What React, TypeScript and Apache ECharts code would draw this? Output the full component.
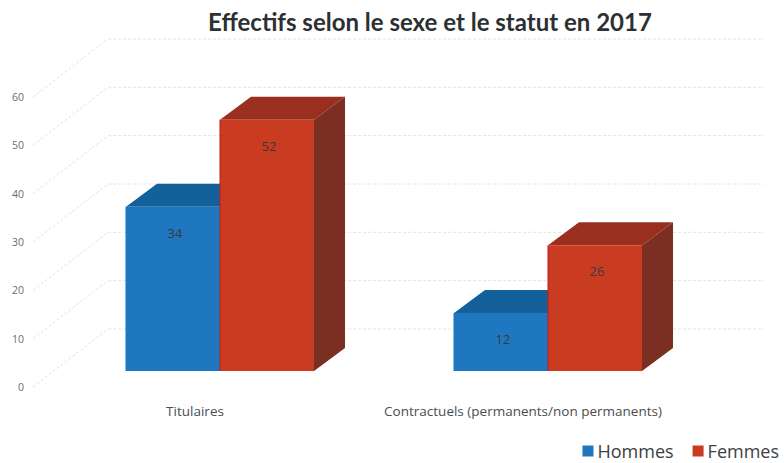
import React, { useEffect, useRef } from "react";
import * as echarts from "echarts";

const titleText = "Effectifs selon le sexe et le statut en 2017";
const categories = ["Titulaires", "Contractuels (permanents/non permanents)"];
const hommes = [34, 12];
const femmes = [52, 26];
const yTicks = [0, 10, 20, 30, 40, 50, 60];

const WALL_DX = 77;
const WALL_DY = 58;
const BAR_W = 94;
const BAR_SHIFT_X = 25;
const BAR_SHIFT_Y = 16;
const TOP_DX = 31;
const TOP_DY = 23;

const wallItem = (params: any, api: any) => {
  const cs = params.coordSys;
  const p = api.coord([0, api.value(1)]);
  const y = p[1];
  const x0 = cs.x;
  const x1 = cs.x + WALL_DX;
  const x2 = cs.x + cs.width + WALL_DX;
  const y1 = y - WALL_DY;
  const style = { stroke: "#e0e2e4", lineWidth: 1, lineDash: [3, 2], fill: "none" };
  return {
    type: "group",
    children: [
      { type: "polyline", shape: { points: [[x0 + 2, y], [x1, y1], [x2, y1]] }, style },
    ],
  };
};

const barItem = (side: -1 | 1, front: string, top: string, right: string, edge: string) => (_p: any, api: any) => {
  const cat = api.value(0);
  const val = api.value(1);
  const a = api.coord([cat, val]);
  const b = api.coord([cat, 0]);
  const cx = a[0] + BAR_SHIFT_X;
  const xl = side < 0 ? cx - BAR_W : cx;
  const xr = xl + BAR_W;
  const yt = a[1] - BAR_SHIFT_Y;
  const yb = b[1] - BAR_SHIFT_Y;
  return {
    type: "group",
    children: [
      {
        type: "polygon",
        shape: { points: [[xr, yt], [xr + TOP_DX, yt - TOP_DY], [xr + TOP_DX, yb - TOP_DY], [xr, yb]] },
        style: { fill: right },
      },
      {
        type: "polygon",
        shape: { points: [[xl, yt], [xl + TOP_DX, yt - TOP_DY], [xr + TOP_DX, yt - TOP_DY], [xr, yt]] },
        style: { fill: top },
      },
      { type: "rect", shape: { x: xl, y: yt, width: BAR_W, height: yb - yt }, style: { fill: front } },
      { type: "line", shape: { x1: xl, y1: yt, x2: xl, y2: yb }, style: { stroke: edge, lineWidth: 1 } },
      {
        type: "text",
        style: {
          x: xl + BAR_W / 2 + 2,
          y: yt + 26,
          text: String(val),
          fill: "#3a3a3a",
          font: "13px 'Open Sans'",
          align: "center",
          verticalAlign: "middle",
        },
      },
    ],
  };
};

export default function App() {
  const ref = useRef<HTMLDivElement>(null);
  useEffect(() => {
    const chart = echarts.init(ref.current!, null, { renderer: "svg" });
    chart.setOption({
      animation: false,
      backgroundColor: "#ffffff",
      title: {
        text: titleText,
        left: 425,
        top: 4,
        textAlign: "center",
        textStyle: { fontFamily: "Lato", fontWeight: 700, fontSize: 24, color: "#2c3033" },
      },
      legend: {
        right: 0,
        top: 437,
        icon: "rect",
        itemWidth: 11,
        itemHeight: 11,
        itemGap: 19,
        data: ["Hommes", "Femmes"],
        textStyle: { fontFamily: "Open Sans", fontSize: 18, color: "#3c4044", padding: [0, 0, 0, -1] },
      },
      grid: { left: 31, right: 97, top: 97, bottom: 76, containLabel: false },
      xAxis: {
        type: "category",
        data: categories,
        axisLine: { show: false },
        axisTick: { show: false },
        axisLabel: { margin: 17, fontFamily: "Open Sans", fontSize: 13.5, color: "#4a4d50", interval: 0 },
      },
      yAxis: {
        type: "value",
        min: 0,
        max: 60,
        interval: 10,
        splitLine: { show: false },
        axisLine: { show: false },
        axisTick: { show: false },
        axisLabel: { margin: 7, fontFamily: "Open Sans", fontSize: 10.5, color: "#6a6d70" },
      },
      series: [
        {
          type: "custom",
          name: "wall",
          silent: true,
          renderItem: wallItem,
          data: yTicks.map((t) => [0, t]),
        },
        {
          type: "custom",
          name: "Hommes",
          renderItem: barItem(-1, "#1f77bf", "#14609a", "#14527f", "#1f77bf"),
          itemStyle: { color: "#1f77bf" },
          data: hommes.map((v, i) => [i, v]),
        },
        {
          type: "custom",
          name: "Femmes",
          renderItem: barItem(1, "#c93c22", "#9a2f1f", "#7b2e22", "#c8141a"),
          itemStyle: { color: "#c93c22" },
          data: femmes.map((v, i) => [i, v]),
        },
      ],
    });
    return () => chart.dispose();
  }, []);
  return <div ref={ref} style={{ position: "absolute", left: 0, top: 0, width: 784, height: 463 }} />;
}
